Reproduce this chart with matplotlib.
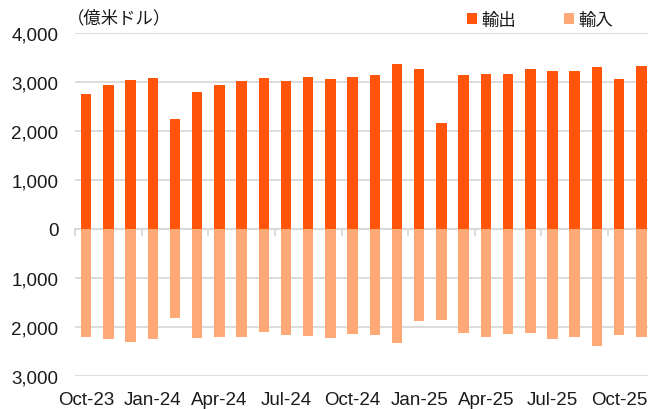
import numpy as np
import matplotlib
matplotlib.use('Agg')
import matplotlib.pyplot as plt
from matplotlib.ticker import FuncFormatter

plt.rcParams['font.family'] = ['Liberation Sans', 'Noto Sans CJK JP']

months = ['Oct-23', 'Nov-23', 'Dec-23', 'Jan-24', 'Feb-24', 'Mar-24', 'Apr-24',
          'May-24', 'Jun-24', 'Jul-24', 'Aug-24', 'Sep-24', 'Oct-24', 'Nov-24',
          'Dec-24', 'Jan-25', 'Feb-25', 'Mar-25', 'Apr-25', 'May-25', 'Jun-25',
          'Jul-25', 'Aug-25', 'Sep-25', 'Oct-25', 'Nov-25']
exports = [2755, 2940, 3045, 3080, 2235, 2800, 2930, 3030, 3080, 3025, 3095, 3053,
           3102, 3135, 3367, 3257, 2163, 3143, 3163, 3163, 3265, 3231, 3231, 3298,
           3061, 3318]
imports = [2200, 2253, 2300, 2245, 1816, 2220, 2212, 2212, 2096, 2163, 2178, 2233,
           2150, 2163, 2320, 1878, 1851, 2130, 2204, 2143, 2123, 2253, 2212, 2388,
           2170, 2198]

c_exp = '#FF540A'
c_imp = '#FFA976'
grid_c = '#D9D9D9'
txt_c = '#1a1a1a'

fig = plt.figure(figsize=(6.48, 4.10), dpi=100)
ax = fig.add_axes([75 / 648, 33 / 410, 573 / 648, 343 / 410])

x = np.arange(len(months))
ax.bar(x, exports, width=0.47, color=c_exp, label='輸出', zorder=3)
ax.bar(x, -np.array(imports), width=0.47, color=c_imp, label='輸入', zorder=3)

ymin, ymax = -3000, 4000
ax.set_ylim(ymin, ymax)
ax.set_xlim(-0.5, 25.3)
ax.set_yticks(np.arange(ymin, ymax + 1, 1000))
ax.yaxis.set_major_formatter(FuncFormatter(lambda v, p: f'{abs(int(v)):,}'))
ax.grid(axis='y', color=grid_c, lw=1.3, zorder=0)
for s in ax.spines.values():
    s.set_visible(False)

ax.set_xticks(x[::3])
ax.set_xticklabels(months[::3])
ax.tick_params(axis='both', length=0, labelsize=13.5, colors=txt_c)
ax.tick_params(axis='y', pad=12)
ax.tick_params(axis='x', pad=11)

# zero line with category-boundary ticks
zero = ax.secondary_xaxis((0 - ymin) / (ymax - ymin))
zero.set_xticks(np.arange(-0.5, len(months), 3))
zero.set_xticklabels([])
zero.tick_params(axis='x', direction='out', length=5, width=1.3, color=grid_c)
zero.spines['bottom'].set_color(grid_c)
zero.spines['bottom'].set_linewidth(1.5)

fig.text(119 / 648, 1 - 18 / 410, '（億米ドル）', fontsize=12.5, va='center',
         ha='center', color=txt_c)
fig.legend(loc='center', bbox_to_anchor=(540 / 648, 1 - 20.5 / 410), ncol=2,
           frameon=False, fontsize=12.5, handlelength=0.55, handleheight=0.55,
           handletextpad=0.25, columnspacing=2.8, borderaxespad=0,
           labelcolor=txt_c)

fig.savefig('out.png', dpi=100)
